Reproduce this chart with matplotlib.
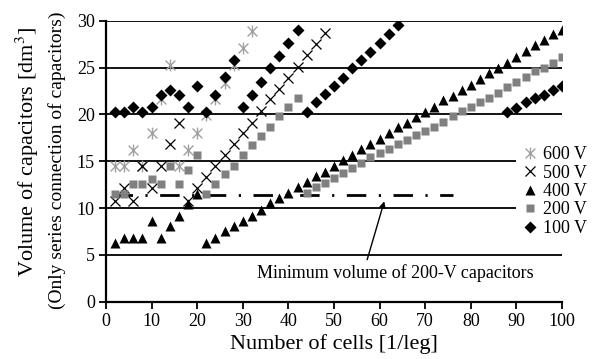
import matplotlib
matplotlib.use("Agg")
import matplotlib.pyplot as plt
from matplotlib.path import Path
import numpy as np

plt.rcParams['font.family'] = ['Liberation Serif', 'DejaVu Serif']
plt.rcParams['mathtext.fontset'] = 'stix'

# data (x = number of cells, y = volume in dm^3)
x_600 = [2, 4, 6, 8, 10, 12, 14, 16, 18, 20, 22, 24, 26, 28, 30, 32]
y_600 = [14.5, 14.5, 16.2, 14.5, 18.0, 21.6, 25.3, 14.5, 16.2, 18.0, 19.9, 21.6, 23.4, 25.3, 27.1, 28.9]

x_500 = [2, 4, 6, 8, 10, 12, 14, 16, 18, 20, 22, 24, 26, 28, 30, 32, 34, 36, 38, 40, 42, 44, 46, 48]
y_500 = [10.8, 12.1, 10.8, 14.5, 12.1, 14.5, 16.8, 19.1, 10.8, 12.1, 13.3, 14.5, 15.7, 16.8, 18.0, 19.1,
         20.4, 21.6, 22.7, 23.9, 25.1, 26.3, 27.5, 28.7]

x_400 = [2, 4, 6, 8, 10, 12, 14, 16, 18, 20,
         22, 24, 26, 28, 30, 32, 34, 36, 38, 40, 42, 44, 46, 48, 50, 52, 54, 56, 58, 60,
         62, 64, 66, 68, 70, 72, 74, 76, 78, 80, 82, 84, 86, 88, 90, 92, 94, 96, 98, 100]
y_400 = [6.3, 6.85, 6.85, 6.85, 8.6, 6.85, 8.05, 9.2, 10.4, 11.5,
         6.3, 6.85, 7.55, 8.05, 8.6, 9.2, 9.75, 10.5, 11.1, 11.6, 12.2, 12.8, 13.4, 13.9, 14.5, 15.1, 15.7,
         16.3, 16.8, 17.4, 18.0, 18.6, 19.1, 19.7, 20.3, 20.8, 21.5, 22.0, 22.6, 23.1, 23.8, 24.4, 24.9,
         25.5, 26.1, 26.8, 27.4, 27.9, 28.6, 29.0]

x_200 = [2, 4, 6, 8, 10, 12, 14, 16, 18, 20, 22, 24, 26, 28, 30, 32, 34, 36, 38, 40, 42,
         44, 46, 48, 50, 52, 54, 56, 58, 60, 62, 64, 66, 68, 70, 72, 74, 76, 78, 80, 82, 84, 86,
         88, 90, 92, 94, 96, 98, 100]
y_200 = [11.5, 11.5, 12.6, 12.6, 13.1, 12.6, 14.5, 12.6, 14.1, 15.7, 11.5, 12.6, 13.6, 14.5, 15.7,
         16.7, 17.7, 18.7, 19.8, 20.8, 21.8,
         11.6, 12.2, 12.7, 13.2, 13.7, 14.3, 14.8, 15.4, 15.85, 16.3, 16.8, 17.3, 17.8, 18.2, 18.7,
         19.2, 19.8, 20.4, 20.8, 21.3, 21.8, 22.3, 22.9, 23.5, 24.0, 24.6, 25.0, 25.5, 26.1]

x_100 = [2, 4, 6, 8, 10, 12, 14, 16, 18, 20, 22, 24, 26, 28, 30, 32, 34, 36, 38, 40, 42,
         44, 46, 48, 50, 52, 54, 56, 58, 60, 62, 64,
         88, 90, 92, 94, 96, 98, 100]
y_100 = [20.3, 20.3, 20.8, 20.3, 20.8, 22.1, 22.6, 22.1, 20.8, 23.0, 20.3, 22.1, 24.0, 25.8, 20.8,
         22.1, 23.5, 24.9, 26.2, 27.6, 29.0,
         20.2, 21.3, 22.2, 23.0, 23.9, 24.9, 25.8, 26.7, 27.6, 28.6, 29.5,
         20.2, 20.7, 21.3, 21.7, 22.1, 22.6, 23.0]

min_vol_200 = 11.4
min_line_x = [1.5, 76]

# X plus a vertical bar, like the spreadsheet "star" marker
star = Path([(-1, -1), (1, 1), (-1, 1), (1, -1), (0, -1.2), (0, 1.2)],
            [Path.MOVETO, Path.LINETO, Path.MOVETO, Path.LINETO, Path.MOVETO, Path.LINETO])

fig = plt.figure(figsize=(5.94, 3.59), dpi=100)
ax = fig.add_axes([106 / 594, 1 - 301.7 / 359, 456 / 594, 281 / 359])

for yv in [5, 10, 15, 20, 25, 30]:
    ax.axhline(yv, color='black', lw=1.3, zorder=1)

ax.plot(min_line_x, [min_vol_200, min_vol_200], color='black', lw=2,
        linestyle=(0, (7, 4.5, 0.8, 4.5)), zorder=2)

ax.plot(x_600, y_600, ls='none', marker=star, ms=8.5, mec='#a0a0a0', mfc='none', mew=1.0,
        label='600 V', zorder=3)
ax.plot(x_500, y_500, ls='none', marker='x', ms=7, mec='black', mew=0.9, label='500 V', zorder=3)
ax.plot(x_400, y_400, ls='none', marker='^', ms=7, color='black', mec='none', label='400 V', zorder=3)
ax.plot(x_200, y_200, ls='none', marker='s', ms=5.8, color='#808080', mec='none', label='200 V', zorder=3)
ax.plot(x_100, y_100, ls='none', marker='D', ms=6.3, color='black', mec='none', label='100 V', zorder=3)

ax.annotate('', xy=(61.2, 11.0), xytext=(57.1, 4.2),
            arrowprops=dict(arrowstyle='-|>', color='black', lw=1, mutation_scale=9))
ax.text(33.1, 3.1, 'Minimum volume of 200-V capacitors', fontsize=13, ha='left', va='center')

ax.set_xlim(0, 100)
ax.set_ylim(0, 30)
ax.set_xticks(np.arange(0, 101, 10))
ax.set_yticks(np.arange(0, 31, 5))
ax.tick_params(labelsize=13, length=5, width=1.3, direction='out', pad=3, color='black')
for s in ['top', 'right']:
    ax.spines[s].set_visible(False)
for s in ['left', 'bottom']:
    ax.spines[s].set_linewidth(1.6)

ax.set_xlabel('Number of cells [1/leg]', fontsize=16, labelpad=3)
fig.text(27 / 594, 0.575, 'Volume of capacitors [dm$^3$]', rotation=90, fontsize=16,
         ha='center', va='center')
fig.text(57 / 594, 1 - 160 / 359, '(Only series connection of capacitors)', rotation=90,
         fontsize=14, ha='center', va='center')

leg = ax.legend(loc='center left', bbox_to_anchor=(516 / 594, 1 - 191.5 / 359),
                bbox_transform=fig.transFigure, frameon=True, fancybox=False, edgecolor='none',
                facecolor='white', framealpha=1, fontsize=13, borderaxespad=0, borderpad=0.25,
                handlelength=1.0, handletextpad=0.25, labelspacing=0.08)

fig.savefig('out.png', dpi=100)
